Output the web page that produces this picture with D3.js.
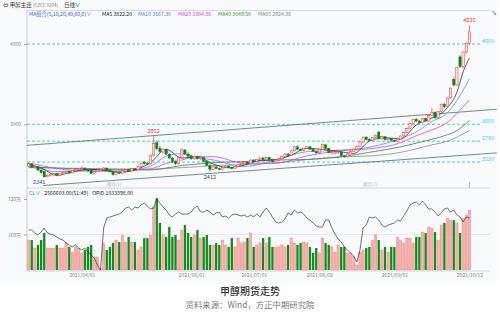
<!DOCTYPE html>
<html>
<head>
<meta charset="utf-8">
<script src="https://cdn.jsdelivr.net/npm/d3@7"></script>
<style>
body { margin: 0; background: #fff; }
svg text { font-family: "Noto Sans CJK SC", "Noto Sans", sans-serif; }
</style>
</head>
<body>
<div id="chart"></div>
<script>
var svgWidth = 500;
var svgHeight = 315;

// daily candles, [open, high, low, close]
var ohlc = [
    [2480,2525,2470,2510],[2505,2515,2455,2465],[2460,2490,2445,2475],[2470,2480,2420,2430],[2430,2440,2390,2400],
    [2410,2415,2341,2345],[2345,2375,2342,2365],[2360,2385,2350,2375],[2370,2395,2360,2385],[2390,2395,2355,2365],
    [2365,2395,2355,2390],[2385,2410,2375,2400],[2400,2425,2390,2415],[2415,2420,2385,2395],[2395,2430,2390,2425],
    [2420,2445,2410,2440],[2435,2455,2425,2450],[2445,2470,2435,2455],[2455,2460,2425,2435],[2435,2445,2415,2420],
    [2425,2430,2380,2390],[2390,2420,2385,2415],[2410,2440,2405,2430],[2425,2450,2420,2440],[2440,2465,2430,2455],
    [2455,2460,2425,2430],[2430,2440,2400,2410],[2410,2415,2360,2375],[2375,2410,2365,2400],[2400,2410,2380,2390],
    [2390,2425,2385,2420],[2415,2440,2405,2435],[2435,2445,2415,2420],[2420,2455,2415,2450],[2450,2455,2425,2435],
    [2435,2480,2430,2475],[2475,2525,2470,2515],[2530,2545,2500,2510],[2515,2530,2490,2505],[2505,2620,2500,2610],
    [2610,2852,2600,2760],[2770,2800,2680,2700],[2700,2730,2640,2660],[2655,2700,2640,2690],[2690,2700,2620,2630],
    [2625,2640,2570,2580],[2580,2590,2520,2535],[2535,2550,2490,2510],[2510,2600,2500,2590],[2590,2700,2580,2680],
    [2680,2690,2620,2630],[2630,2650,2590,2600],[2605,2620,2560,2570],[2570,2610,2560,2600],[2600,2615,2560,2570],
    [2570,2600,2555,2590],[2585,2590,2530,2540],[2540,2550,2480,2490],[2490,2500,2412,2440],[2440,2480,2430,2470],
    [2470,2480,2440,2450],[2450,2460,2425,2435],[2435,2470,2430,2465],[2465,2490,2455,2480],[2480,2490,2455,2460],
    [2460,2470,2440,2450],[2450,2480,2445,2475],[2475,2500,2465,2495],[2495,2520,2485,2510],[2510,2540,2500,2530],
    [2530,2540,2500,2510],[2510,2560,2505,2555],[2555,2565,2530,2540],[2540,2570,2535,2565],[2565,2585,2555,2580],
    [2580,2590,2555,2560],[2560,2590,2550,2585],[2585,2595,2550,2560],[2560,2570,2525,2535],[2535,2560,2525,2555],
    [2555,2580,2545,2570],[2570,2610,2560,2600],[2600,2640,2590,2630],[2630,2640,2605,2615],[2615,2680,2610,2670],
    [2670,2730,2660,2720],[2720,2735,2680,2690],[2690,2700,2665,2675],[2675,2710,2665,2700],[2700,2730,2690,2720],
    [2720,2725,2680,2690],[2690,2700,2655,2665],[2665,2675,2635,2645],[2645,2690,2640,2685],[2685,2760,2680,2750],
    [2745,2755,2690,2700],[2700,2710,2640,2650],[2650,2670,2620,2660],[2640,2665,2625,2655],[2650,2670,2630,2660],
    [2655,2660,2600,2610],[2610,2620,2585,2595],[2595,2640,2590,2630],[2630,2670,2620,2660],[2660,2700,2650,2690],
    [2690,2730,2680,2720],[2720,2790,2710,2780],[2780,2850,2770,2840],[2840,2850,2800,2810],[2815,2830,2790,2800],
    [2800,2840,2790,2835],[2835,2870,2825,2860],[2900,2920,2810,2820],[2820,2850,2810,2845],[2845,2850,2800,2810],
    [2810,2835,2800,2825],[2825,2830,2790,2800],[2800,2810,2775,2785],[2785,2820,2780,2815],[2815,2860,2805,2855],
    [2855,2910,2845,2900],[2900,2960,2890,2950],[2950,3020,2940,3010],[3010,3070,3000,3060],[3060,3080,3030,3040],
    [3040,3055,3010,3020],[3020,3080,3015,3070],[3070,3085,3030,3040],[3040,3120,3035,3110],[3110,3200,3100,3150],
    [3150,3160,3070,3080],[3080,3170,3070,3160],[3160,3260,3150,3250],[3250,3270,3200,3220],[3220,3340,3210,3330],
    [3330,3460,3320,3450],[3560,3590,3470,3490],[3490,3720,3480,3710],[3840,3860,3700,3720],[3720,3910,3700,3900],
    [3900,4020,3880,4010],[4010,4235,3990,4150]
];

// volume in 万手
var volumes = [
    135,135,99,113,135,167,99,99,99,113,
    99,99,122,104,81,104,99,77,90,104,
    113,59,59,9,122,90,104,122,135,126,
    158,126,149,126,126,90,104,144,144,158,
    284,324,212,158,149,194,149,158,135,180,
    203,167,149,158,180,144,149,158,113,113,
    122,113,135,113,104,144,104,144,122,126,
    144,167,104,113,122,144,122,149,104,104,
    104,113,104,113,144,122,113,122,126,122,
    104,77,99,77,144,122,113,104,81,113,
    104,104,77,77,59,23,81,90,99,104,
    135,158,135,90,104,81,104,104,149,135,
    122,144,144,122,149,149,171,167,194,189,
    171,135,203,212,234,225,225,212,167,234,
    248,270
];

// open interest in 万手
var openInterest = [
    90,90,87,85,88,92,87,86,85,83,
    81,80,77,75,73,75,72,70,72,68,
    65,62,55,50,92,102,103,104,105,106,
    108,112,113,110,113,112,115,117,114,111,
    112,121,117,113,110,105,103,106,108,106,
    106,106,108,112,114,108,108,110,108,105,
    107,108,103,104,102,105,106,105,104,105,
    103,105,103,106,103,108,112,108,103,98,
    97,98,101,107,105,110,107,108,106,102,
    100,97,94,93,93,100,100,92,86,81,
    78,73,70,67,64,58,70,92,95,103,
    102,103,100,95,93,95,96,97,100,99,
    104,109,115,117,118,115,119,115,111,111,
    108,104,107,111,112,108,110,105,103,98,
    103,102
];

// moving averages
var ma5Days = [0,4,9,14,19,24,29,34,39,44,49,54,59,64,69,74,79,84,89,94,99,104,109,114,119,124,129,134,137,139,141];
var ma5 = [2500,2456,2367,2405,2440,2426,2401,2432,2523,2688,2579,2594,2506,2458,2492,2550,2559,2617,2701,2687,2665,2637,2790,2834,2816,2992,3078,3208,3400,3654,3822];
var maDays = [0,9,19,29,39,44,49,54,59,69,79,89,99,109,119,124,129,134,137,141];
var ma10 = [2505,2411,2423,2414,2478,2605,2634,2587,2557,2475,2555,2659,2676,2714,2825,2904,3035,3143,3295,3567];
var ma20 = [2520,2450,2417,2419,2446,2511,2556,2596,2596,2516,2515,2607,2668,2695,2770,2858,2930,3024,3135,3304];
var ma40 = [2470,2455,2440,2435,2432,2455,2487,2505,2521,2536,2555,2562,2591,2651,2719,2765,2813,2870,2920,3049];
var ma60 = [2460,2455,2450,2445,2440,2450,2460,2472,2486,2497,2519,2560,2593,2606,2651,2695,2744,2790,2840,2924];

var dateDays = [17, 52, 72, 93, 117, 141];
var dateLabels = ["2021/04/01", "2021/06/01", "2021/07/01", "2021/08/02", "2021/09/01", "2021/10/12"];
var priceTicks = [4000, 3000];
var volumeTicks = [320, 160];
var levelLines = [4000, 3000, 2790, 2530];
var rollDays = [24, 106];
// trend lines as [day, price] pairs
var trendUpper = [[-0.5, 2738], [149.8, 3188]];
var trendLower = [[4.6, 2238], [149.8, 2644]];
var extremeDays = [40, 58, 141, 5];

var upColor = "#e8392f";
var downColor = "#10801a";

var svg = d3.select("#chart")
    .append("svg")
    .attr("width", svgWidth)
    .attr("height", svgHeight);

svg.append("rect").attr("width", 497).attr("height", 284).attr("fill", "#f9fafc");

var defs = svg.append("defs");
defs.append("clipPath").attr("id", "clipMain")
    .append("rect").attr("x", 27).attr("y", 11).attr("width", 470).attr("height", 177);

// scales
var x = d3.scaleLinear().domain([0, 141]).range([28.6, 469.4]);
var step = x(1) - x(0);
var yPrice = d3.scaleLinear().domain([3000, 4000]).range([124.3, 44]);
var yVol = d3.scaleLinear().domain([0, 320]).range([270, 199]);
var yOI = d3.scaleLinear().domain([50, 121]).range([270, 199]);

// header
var head = svg.append("text").attr("x", 3).attr("y", 7).attr("font-size", 5.5).attr("fill", "#333");
head.append("tspan").text("⇔ 甲醇主连 ");
head.append("tspan").attr("font-size", 4.5).attr("fill", "#777").text("(CZCE 9294)");
head.append("tspan").attr("dx", 6).text("日线∨");

svg.append("line").attr("x1", 27).attr("x2", 490).attr("y1", 10.5).attr("y2", 10.5)
    .attr("stroke", "#c9ced6").attr("stroke-width", 0.8);
svg.append("text").attr("x", 491).attr("y", 15).attr("font-size", 6).attr("fill", "#666").text("↘");

var legendItems = [
    { x: 29, text: "MA组合(5,10,20,40,60,0)∨", color: "#4a6fd0" },
    { x: 102, text: "MA5 3822.20", color: "#222" },
    { x: 138, text: "MA10 3567.30", color: "#5b7bd5" },
    { x: 178, text: "MA20 3304.38", color: "#e03ce0" },
    { x: 218, text: "MA40 3049.50", color: "#3a9a3a" },
    { x: 258, text: "MA60 2924.38", color: "#888" }
];
svg.selectAll("text.legend").data(legendItems).enter().append("text")
    .attr("class", "legend")
    .attr("x", d => d.x).attr("y", 16)
    .attr("font-size", 5.2)
    .attr("fill", d => d.color)
    .text(d => d.text);

// left axis line and separators
svg.append("line").attr("x1", 27).attr("x2", 27).attr("y1", 10.5).attr("y2", 271)
    .attr("stroke", "#b8bec8").attr("stroke-width", 0.8);
svg.append("line").attr("x1", 27).attr("x2", 490).attr("y1", 188).attr("y2", 188)
    .attr("stroke", "#c9ced6").attr("stroke-width", 0.8);
svg.append("line").attr("x1", 27).attr("x2", 490).attr("y1", 271).attr("y2", 271)
    .attr("stroke", "#c9ced6").attr("stroke-width", 0.8);

// price axis
var priceAxis = svg.append("g")
    .attr("transform", "translate(27,0)")
    .call(d3.axisLeft(yPrice).tickValues(priceTicks).tickSize(3).tickFormat(d3.format("d")));
priceAxis.select(".domain").remove();
priceAxis.selectAll("line").attr("stroke", "#aaa");
priceAxis.selectAll("text").attr("font-size", 5).attr("fill", "#888").attr("font-family", "Noto Sans");

var main = svg.append("g").attr("clip-path", "url(#clipMain)");

// horizontal cyan levels
main.selectAll("line.level").data(levelLines).enter().append("line")
    .attr("class", "level")
    .attr("x1", 27).attr("x2", 480)
    .attr("y1", d => yPrice(d)).attr("y2", d => yPrice(d))
    .attr("stroke", "#36c6d6").attr("stroke-width", 0.9)
    .attr("stroke-dasharray", "3,2");
svg.selectAll("text.levelLabel").data(levelLines).enter().append("text")
    .attr("class", "levelLabel")
    .attr("x", 482).attr("y", d => yPrice(d) - 1)
    .attr("font-size", 5.5)
    .attr("fill", "#48cfe0")
    .text(d => d);

// trend lines
[trendUpper, trendLower].forEach(function (t) {
    main.append("line")
        .attr("x1", x(t[0][0])).attr("y1", yPrice(t[0][1]))
        .attr("x2", x(t[1][0])).attr("y2", yPrice(t[1][1]))
        .attr("stroke", "#4f6e72").attr("stroke-width", 0.8);
});

// moving average lines
function maLine(days, values, color) {
    var line = d3.line()
        .x((d, i) => x(days[i]))
        .y(d => yPrice(d))
        .curve(d3.curveMonotoneX);
    main.append("path")
        .datum(values)
        .attr("d", line)
        .attr("fill", "none")
        .attr("stroke", color)
        .attr("stroke-width", 0.8);
}
maLine(maDays, ma60, "#8a8a8a");
maLine(maDays, ma40, "#3f7f3f");
maLine(maDays, ma20, "#e03ce0");
maLine(maDays, ma10, "#6b86dc");
maLine(ma5Days, ma5, "#333");

// candles
var cw = step * 0.72;
var isUp = d => d[3] >= d[0];
main.selectAll("line.wick").data(ohlc).enter().append("line")
    .attr("class", "wick")
    .attr("x1", (d, i) => x(i)).attr("x2", (d, i) => x(i))
    .attr("y1", d => yPrice(d[1])).attr("y2", d => yPrice(d[2]))
    .attr("stroke", d => isUp(d) ? upColor : downColor)
    .attr("stroke-width", 0.7);
main.selectAll("rect.body").data(ohlc).enter().append("rect")
    .attr("class", "body")
    .attr("x", (d, i) => x(i) - cw / 2)
    .attr("width", cw)
    .attr("y", d => yPrice(Math.max(d[0], d[3])))
    .attr("height", d => Math.max(0.8, Math.abs(yPrice(d[0]) - yPrice(d[3]))))
    .attr("fill", d => isUp(d) ? "#fde6e4" : downColor)
    .attr("stroke", d => isUp(d) ? upColor : downColor)
    .attr("stroke-width", 0.5);

// extreme labels
extremeDays.forEach(function (i) {
    var d = ohlc[i];
    var high = i === 40 || i === 141;
    main.append("text")
        .attr("x", x(i) + (i === 5 ? -5 : 0))
        .attr("y", high ? yPrice(d[1]) - 3 : yPrice(d[2]) + 7)
        .attr("text-anchor", "middle")
        .attr("font-size", 5.5)
        .attr("fill", high ? "#e8392f" : "#3a4a78")
        .text(high ? d[1] : d[2]);
});

// contract roll markers
main.selectAll("text.roll").data(rollDays).enter().append("text")
    .attr("class", "roll")
    .attr("x", d => x(d) + 3).attr("y", 186)
    .attr("font-size", 4.5).attr("fill", "#b5b9c0")
    .text("换月(1)");
svg.append("line").attr("x1", x(141)).attr("x2", x(141)).attr("y1", 182).attr("y2", 188)
    .attr("stroke", "#999").attr("stroke-width", 0.7);

// sub chart header
var subHead = svg.append("text").attr("x", 29).attr("y", 195).attr("font-size", 5.2).attr("fill", "#222");
subHead.append("tspan").attr("fill", "#4a6fd0").text("CL∨");
subHead.append("tspan").attr("dx", 4).text("2566603.00(51:49)");
subHead.append("tspan").attr("dx", 4).text("OPID 1033398.00");

// volume axis
var volAxis = svg.append("g")
    .attr("transform", "translate(27,0)")
    .call(d3.axisLeft(yVol).tickValues(volumeTicks).tickSize(3).tickFormat(d => d + "万"));
volAxis.select(".domain").remove();
volAxis.selectAll("line").attr("stroke", "#aaa");
volAxis.selectAll("text").attr("font-size", 5).attr("fill", "#888");
svg.append("line").attr("x1", 27).attr("x2", 490).attr("y1", yVol(160)).attr("y2", yVol(160))
    .attr("stroke", "#dde1e6").attr("stroke-width", 0.7);

// volume bars
var bw = step * 0.74;
svg.selectAll("rect.vol").data(volumes).enter().append("rect")
    .attr("class", "vol")
    .attr("x", (d, i) => x(i) - bw / 2)
    .attr("width", bw)
    .attr("y", d => yVol(d))
    .attr("height", d => yVol(0) - yVol(d))
    .attr("fill", (d, i) => isUp(ohlc[i]) ? "#f6b0ad" : "#168a1c")
    .attr("stroke", (d, i) => isUp(ohlc[i]) ? "#e8807b" : "none")
    .attr("stroke-width", 0.4);

// open interest line
svg.append("path")
    .datum(openInterest)
    .attr("d", d3.line().x((d, i) => x(i)).y(d => yOI(d)))
    .attr("fill", "none")
    .attr("stroke", "#333")
    .attr("stroke-width", 0.7);

// date axis
var dateAxis = svg.append("g")
    .attr("transform", "translate(0,271)")
    .call(d3.axisBottom(x).tickValues(dateDays).tickSize(0)
        .tickFormat((d, i) => dateLabels[i]));
dateAxis.select(".domain").remove();
dateAxis.selectAll("text").attr("font-size", 5).attr("fill", "#888").attr("dy", "0.55em");

// caption
svg.append("text")
    .attr("x", 250).attr("y", 295)
    .attr("text-anchor", "middle")
    .attr("font-size", 10)
    .attr("font-weight", 500)
    .attr("fill", "#333")
    .text("甲醇期货走势");
svg.append("text")
    .attr("x", 250).attr("y", 308)
    .attr("text-anchor", "middle")
    .attr("font-size", 8.4)
    .attr("fill", "#777")
    .text("资料来源：Wind，方正中期研究院");
</script>
</body>
</html>
